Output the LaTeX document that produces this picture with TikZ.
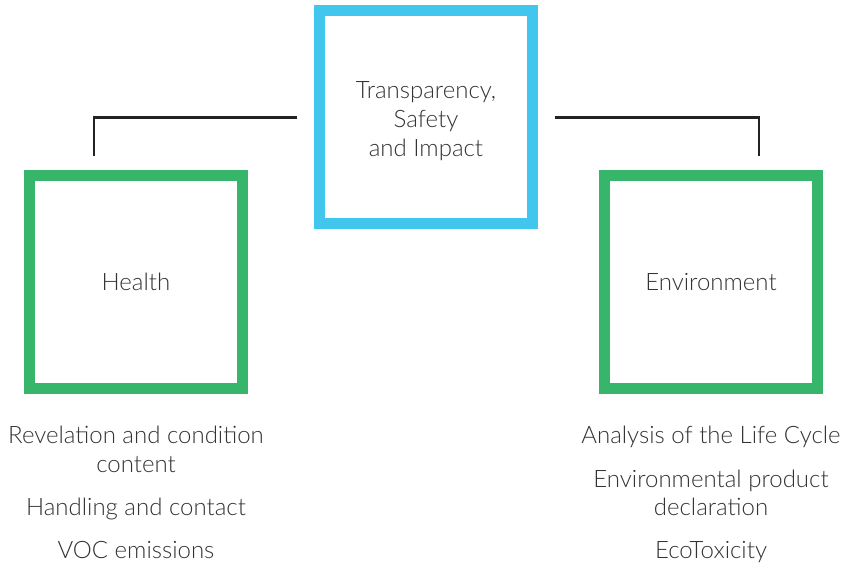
\documentclass[tikz,border=0pt]{standalone}
\usepackage{fontspec}
\setmainfont{Lato Light}
\begin{document}
\begin{tikzpicture}[x=1pt,y=-1pt,
  every node/.style={text=txt,font=\fontsize{24}{29}\selectfont},
  bluebox/.style={draw=cyanb,line width=11pt,minimum width=212.5pt,minimum height=213pt,inner sep=0pt,align=center},
  greenbox/.style={draw=greenb,line width=11pt,minimum width=213pt,minimum height=213pt,inner sep=0pt,align=center},
  conn/.style={draw=linec,line width=2.2pt},
  item/.style={anchor=base,inner sep=0pt}]
\definecolor{cyanb}{HTML}{41C6EE}
\definecolor{greenb}{HTML}{37B66B}
\definecolor{linec}{HTML}{222222}
\definecolor{txt}{HTML}{333333}
\useasboundingbox[fill=white] (0,0) rectangle (846,564);
\node[bluebox] (top) at (426,117.5) {};
\node[align=center,inner sep=0pt] (toptext) at ([yshift=-3.5pt]top.center) {Transparency,\\Safety\\and Impact};
\node[greenbox] (health) at (136,282) {Health};
\node[greenbox] (env) at (711,282) {Environment};
\coordinate (hl) at ([xshift=-42pt,yshift=14pt]health.north);
\coordinate (el) at ([xshift=48pt,yshift=14pt]env.north);
\draw[conn] ([xshift=-17pt]top.west) -| (hl);
\draw[conn] ([xshift=17.5pt]top.east) -| (el);
\node[item] (h1) at (136,443) {Revelation and condition};
\node[item] (h1b) at (136,472) {content};
\node[item] (h2) at (136,515) {Handling and contact};
\node[item] (h3) at (136,558) {VOC emissions};
\node[item] (e1) at (711,443) {Analysis of the Life Cycle};
\node[item] (e2) at (711,487) {Environmental product};
\node[item] (e2b) at (711,515) {declaration};
\node[item] (e3) at (711,558) {EcoToxicity};
\end{tikzpicture}
\end{document}
